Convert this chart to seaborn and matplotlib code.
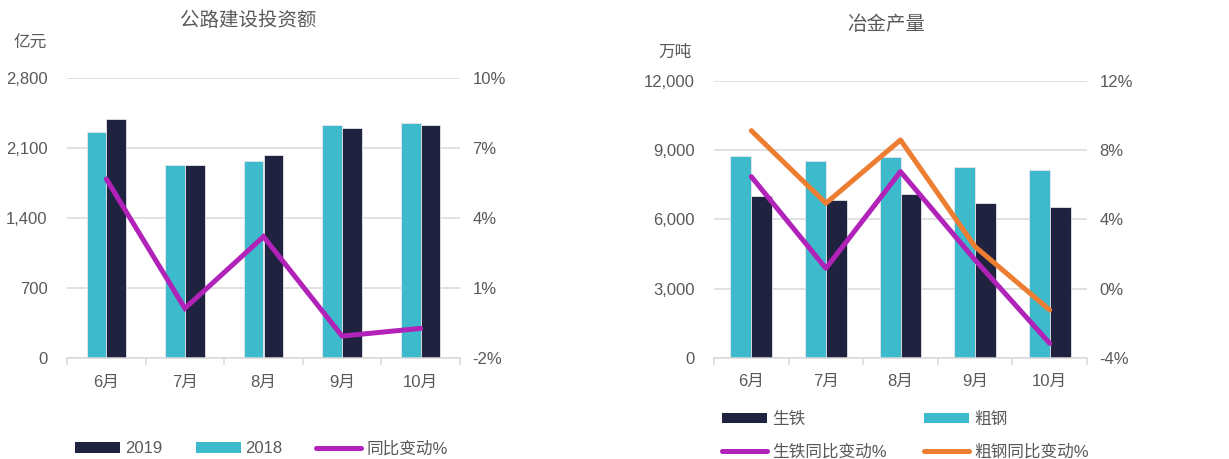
import numpy as np
import pandas as pd
import matplotlib
matplotlib.use("Agg")
import matplotlib.pyplot as plt
import seaborn as sns
from matplotlib.ticker import FuncFormatter, FixedLocator
from matplotlib.patches import Patch
from matplotlib.lines import Line2D

sns.set_theme(style="white")
plt.rcParams['font.family'] = ['Liberation Sans', 'Noto Sans CJK SC', 'DejaVu Sans']

# ---------------- data ----------------
months = ["6月", "7月", "8月", "9月", "10月"]

# 公路建设投资额 (亿元)
road_2018 = [2260, 1930, 1970, 2327, 2347]
road_2019 = [2390, 1930, 2030, 2303, 2327]
road_yoy = [5.67, 0.13, 3.2, -1.06, -0.73]   # %

# 冶金产量 (万吨)
steel_crude = [8747, 8517, 8704, 8270, 8140]   # 粗钢
steel_pig = [6999, 6826, 7099, 6722, 6548]     # 生铁
pig_yoy = [6.47, 1.17, 6.76, 1.65, -3.17]      # 生铁同比变动%
crude_yoy = [9.13, 4.93, 8.59, 2.42, -1.24]    # 粗钢同比变动%

TEAL = "#3DBACB"
NAVY = "#1F2340"
PURPLE = "#B022B8"
ORANGE = "#ED7D31"
GRID = "#D9D9D9"
TXT = "#595959"

fig = plt.figure(figsize=(12.29, 4.59), dpi=100)
ax1 = fig.add_axes([67/1229, 1-358/459, (460-67)/1229, (358-78)/459])
ax2 = fig.add_axes([714/1229, 1-357.7/459, (1087-714)/1229, (357.7-81)/459])


def style_axes(ax, twin, ylim, yticks, tlim, tticks):
    ax.set_xlim(-0.5, len(months) - 0.5)
    ax.set_ylim(*ylim)
    ax.set_yticks(yticks)
    ax.yaxis.set_major_formatter(FuncFormatter(lambda v, p: f"{int(v):,}"))
    ax.grid(axis="y", color=GRID, lw=1.1)
    ax.grid(axis="x", visible=False)
    ax.set_axisbelow(True)
    for s in ["top", "right", "left"]:
        ax.spines[s].set_visible(False)
    for s in ["top", "right", "left", "bottom"]:
        twin.spines[s].set_visible(False)
    ax.spines["bottom"].set_color(GRID)
    ax.spines["bottom"].set_linewidth(1.1)
    ax.set_xticks(range(len(months)))
    ax.set_xticklabels(months)
    ax.xaxis.set_minor_locator(FixedLocator(np.arange(-0.5, len(months), 1.0)))
    ax.tick_params(axis="x", which="major", length=0, pad=12, labelsize=12, labelcolor=TXT)
    ax.tick_params(axis="x", which="minor", length=5, width=1.1, color=GRID, bottom=True)
    ax.tick_params(axis="y", length=0, pad=14, labelsize=12, labelcolor=TXT)
    ax.set_xlabel("")
    ax.set_ylabel("")
    twin.set_ylim(*tlim)
    twin.set_yticks(tticks)
    twin.yaxis.set_major_formatter(FuncFormatter(lambda v, p: f"{int(round(v))}%"))
    twin.tick_params(axis="y", length=0, pad=9, labelsize=12, labelcolor=TXT)
    twin.grid(False)
    twin.set_ylabel("")


# ---------------- left chart ----------------
df1 = pd.DataFrame({
    "month": months * 2,
    "value": road_2018 + road_2019,
    "year": ["2018"] * 5 + ["2019"] * 5,
})
sns.barplot(data=df1, x="month", y="value", hue="year", hue_order=["2018", "2019"],
            palette=[TEAL, NAVY], width=0.5, ax=ax1, legend=False,
            edgecolor="#E6E6EA", linewidth=0.6, saturation=1)
tw1 = ax1.twinx()
sns.lineplot(x=np.arange(5), y=road_yoy, ax=tw1, color=PURPLE, lw=3.6,
             solid_capstyle="round", solid_joinstyle="miter", legend=False)
style_axes(ax1, tw1, (0, 2800), [0, 700, 1400, 2100, 2800], (-2, 10), [-2, 1, 4, 7, 10])

# ---------------- right chart ----------------
df2 = pd.DataFrame({
    "month": months * 2,
    "value": steel_crude + steel_pig,
    "kind": ["粗钢"] * 5 + ["生铁"] * 5,
})
sns.barplot(data=df2, x="month", y="value", hue="kind", hue_order=["粗钢", "生铁"],
            palette=[TEAL, NAVY], width=0.56, ax=ax2, legend=False,
            edgecolor="#E6E6EA", linewidth=0.6, saturation=1)
tw2 = ax2.twinx()
sns.lineplot(x=np.arange(5), y=crude_yoy, ax=tw2, color=ORANGE, lw=3.6,
             solid_capstyle="round", legend=False)
sns.lineplot(x=np.arange(5), y=pig_yoy, ax=tw2, color=PURPLE, lw=3.6,
             solid_capstyle="round", legend=False)
style_axes(ax2, tw2, (0, 12000), [0, 3000, 6000, 9000, 12000], (-4, 12), [-4, 0, 4, 8, 12])

# ---------------- titles & units ----------------
fig.text(248/1229, 1-21/459, "公路建设投资额", ha="center", va="center", fontsize=14, color=TXT)
fig.text(886/1229, 1-25/459, "冶金产量", ha="center", va="center", fontsize=14, color=TXT)
fig.text(30/1229, 1-43/459, "亿元", ha="center", va="center", fontsize=12, color=TXT)
fig.text(675/1229, 1-52/459, "万吨", ha="center", va="center", fontsize=12, color=TXT)

# ---------------- legends ----------------
h_navy = Patch(facecolor=NAVY, edgecolor="none")
h_teal = Patch(facecolor=TEAL, edgecolor="none")
h_purple = Line2D([], [], color=PURPLE, lw=3.6, solid_capstyle="round")
h_orange = Line2D([], [], color=ORANGE, lw=3.6, solid_capstyle="round")

leg1 = fig.legend([h_navy, h_teal, h_purple], ["2019", "2018", "同比变动%"],
                  loc="upper left", bbox_to_anchor=(75/1229, 1-441/459),
                  ncol=3, frameon=False, fontsize=12, handlelength=2.7, handleheight=0.6,
                  handletextpad=0.3, columnspacing=2.0, borderpad=0, borderaxespad=0)
for t in leg1.get_texts():
    t.set_color(TXT)

leg2 = fig.legend([h_navy, h_purple, h_teal, h_orange],
                  ["生铁", "生铁同比变动%", "粗钢", "粗钢同比变动%"],
                  loc="upper left", bbox_to_anchor=(722/1229, 1-412/459),
                  ncol=2, frameon=False, fontsize=12, handlelength=2.7, handleheight=0.6,
                  handletextpad=0.3, columnspacing=2.25, labelspacing=1.0,
                  borderpad=0, borderaxespad=0)
for t in leg2.get_texts():
    t.set_color(TXT)

fig.savefig("out.png", dpi=100)
